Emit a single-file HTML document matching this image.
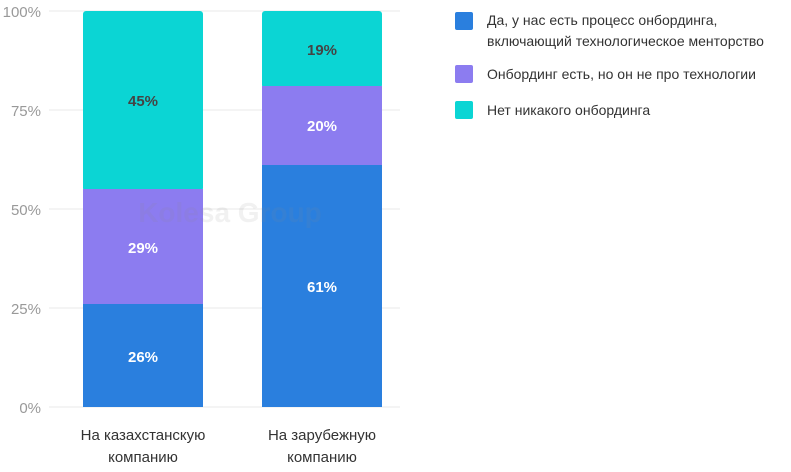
<!DOCTYPE html><html><head><meta charset="utf-8"><style>body{margin:0;background:#fff}</style></head><body>
<svg width="791" height="467" xmlns="http://www.w3.org/2000/svg" font-family="Liberation Sans, DejaVu Sans, sans-serif">
<g stroke="#f0f0f0" stroke-width="1.5">
<line x1="49" x2="400" y1="11" y2="11"/><line x1="49" x2="400" y1="110" y2="110"/><line x1="49" x2="400" y1="209" y2="209"/><line x1="49" x2="400" y1="308" y2="308"/><line x1="49" x2="400" y1="407" y2="407"/></g>
<g fill="#999" font-size="15" text-anchor="end">
<text x="41" y="17">100%</text><text x="41" y="116">75%</text><text x="41" y="215">50%</text><text x="41" y="314">25%</text><text x="41" y="413">0%</text></g>
<rect x="83" y="11" width="120" height="180" rx="3" fill="#0bd5d4"/>
<rect x="83" y="189" width="120" height="116" fill="#8c7cf0"/>
<rect x="83" y="304" width="120" height="103" fill="#2a7fde"/>
<rect x="262" y="11" width="120" height="77" rx="3" fill="#0bd5d4"/>
<rect x="262" y="86" width="120" height="80" fill="#8c7cf0"/>
<rect x="262" y="165" width="120" height="242" fill="#2a7fde"/>
<text x="230" y="222" font-size="28" fill="#888" fill-opacity="0.12" text-anchor="middle" font-weight="bold">Kolesa Group</text>
<g font-size="15" text-anchor="middle" font-weight="bold">
<text x="143" y="106" fill="#444">45%</text><text x="143" y="253" fill="#fff">29%</text><text x="143" y="362" fill="#fff">26%</text>
<text x="322" y="55" fill="#444">19%</text><text x="322" y="131" fill="#fff">20%</text><text x="322" y="292" fill="#fff">61%</text></g>
<g font-size="15" fill="#333" text-anchor="middle">
<text x="143" y="440">На казахстанскую</text><text x="143" y="462">компанию</text>
<text x="322" y="440">На зарубежную</text><text x="322" y="462">компанию</text></g>
<rect x="455" y="12" width="18" height="18" rx="2" fill="#2a7fde"/>
<rect x="455" y="65" width="18" height="18" rx="2" fill="#8c7cf0"/>
<rect x="455" y="101" width="18" height="18" rx="2" fill="#0bd5d4"/>
<g font-size="14" fill="#333">
<text x="487" y="25">Да, у нас есть процесс онбординга,</text>
<text x="487" y="46">включающий технологическое менторство</text>
<text x="487" y="79">Онбординг есть, но он не про технологии</text>
<text x="487" y="115">Нет никакого онбординга</text></g>
</svg></body></html>
